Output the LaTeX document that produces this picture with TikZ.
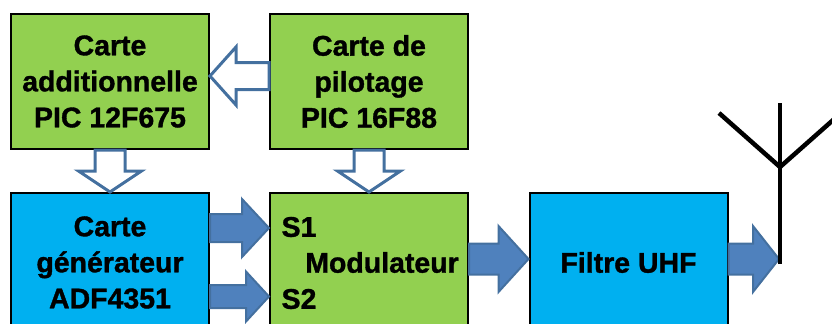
\documentclass[tikz,border=0pt]{standalone}
\usepackage{fontspec}
\setmainfont[BoldFeatures={FakeBold=1.2}]{Liberation Sans}
\usetikzlibrary{calc}
\definecolor{cartegreen}{HTML}{92D050}
\definecolor{carteblue}{HTML}{00B0F0}
\definecolor{arrowfill}{HTML}{4F81BD}
\definecolor{arrowline}{HTML}{44709F}
\tikzset{
  box/.style={draw=black,line width=.04cm,minimum width=3.96cm,align=center},
  blockarrow/.style n args={3}{to path={
    -- ($(\tikztostart)!#1!90:(\tikztotarget)$)
    -- ($(\tikztotarget)!#3!(\tikztostart)!-#1!90:(\tikztostart)$)
    -- ($(\tikztotarget)!#3!(\tikztostart)!-#2!90:(\tikztostart)$)
    -- (\tikztotarget)
    -- ($(\tikztotarget)!#3!(\tikztostart)!#2!90:(\tikztostart)$)
    -- ($(\tikztotarget)!#3!(\tikztostart)!#1!90:(\tikztostart)$)
    -- ($(\tikztostart)!-#1!90:(\tikztotarget)$)
    -- (\tikztostart)}},
  hollow/.style={draw=arrowline,fill=white,line width=.06cm},
  solid/.style={draw=arrowline,fill=arrowfill,line width=.04cm}
}
\begin{document}
\begin{tikzpicture}
  [every node/.style={font=\fontsize{16.2}{20.5}\selectfont\bfseries}]
  \useasboundingbox (0,0) rectangle (16.64,6.46);
  \clip (0,0) rectangle (16.64,6.46);
  \node (add)[box,fill=cartegreen,minimum height=2.7cm] at (2.2,4.83) {Carte\\additionnelle\\PIC 12F675};
  \node (pil)[box,fill=cartegreen,minimum height=2.7cm] at (7.38,4.83) {Carte de\\pilotage\\PIC 16F88};
  \node (gen)[box,fill=carteblue,minimum height=2.78cm] at (2.2,1.21) {Carte\\générateur\\ADF4351};
  \node (mod)[box,fill=cartegreen,minimum height=2.78cm] at (7.38,1.21) {};
  \node (fil)[box,fill=carteblue,minimum height=2.78cm] at (12.57,1.21) {Filtre UHF};
  \node (s1) at (5.98,1.92) {S1};
  \node (s2) at (5.98,.48) {S2};
  \node (modtxt) at (7.64,1.21) {Modulateur};
  \coordinate (cmd) at (0,4.94);
  \coordinate (s1in) at (0,1.9);
  \coordinate (s2in) at (0,.53);
  \coordinate (antin) at (15.58,1.28);
  \coordinate (anttop) at (15.6,4.4);
  \coordinate (antfork) at (15.6,3.12);
  \coordinate (antleft) at (14.38,4.2);
  \coordinate (antright) at (16.82,4.2);
  \coordinate (antend) at (15.6,1.18);
  \coordinate (pilout) at (pil.west |- cmd);
  \coordinate (addin) at (add.east |- cmd);
  \coordinate (s1out) at (gen.east |- s1in);
  \coordinate (s1to) at (mod.west |- s1in);
  \coordinate (s2out) at (gen.east |- s2in);
  \coordinate (s2to) at (mod.west |- s2in);
  \coordinate (modout) at (mod.east |- antin);
  \coordinate (filin) at (fil.west |- antin);
  \coordinate (filout) at (fil.east |- antin);
  \foreach \from/\to/\shaft/\headw/\headl in {pilout/addin/.27/.58/.52,add.south/gen.north/.3/.63/.42,pil.south/mod.north/.3/.63/.42}
    \draw[hollow] (\from) to[blockarrow={\shaft cm}{\headw cm}{\headl cm}] (\to);
  \foreach \from/\to/\shaft/\headw/\headl in {s1out/s1to/.28/.58/.54,s2out/s2to/.23/.5/.46,modout/filin/.31/.66/.6,filout/antin/.31/.66/.52}
    \draw[solid] (\from) to[blockarrow={\shaft cm}{\headw cm}{\headl cm}] (\to);
  \draw[line width=.09cm] (antend) -- (anttop);
  \draw[line width=.09cm] (antleft) -- (antfork) -- (antright);
\end{tikzpicture}
\end{document}
